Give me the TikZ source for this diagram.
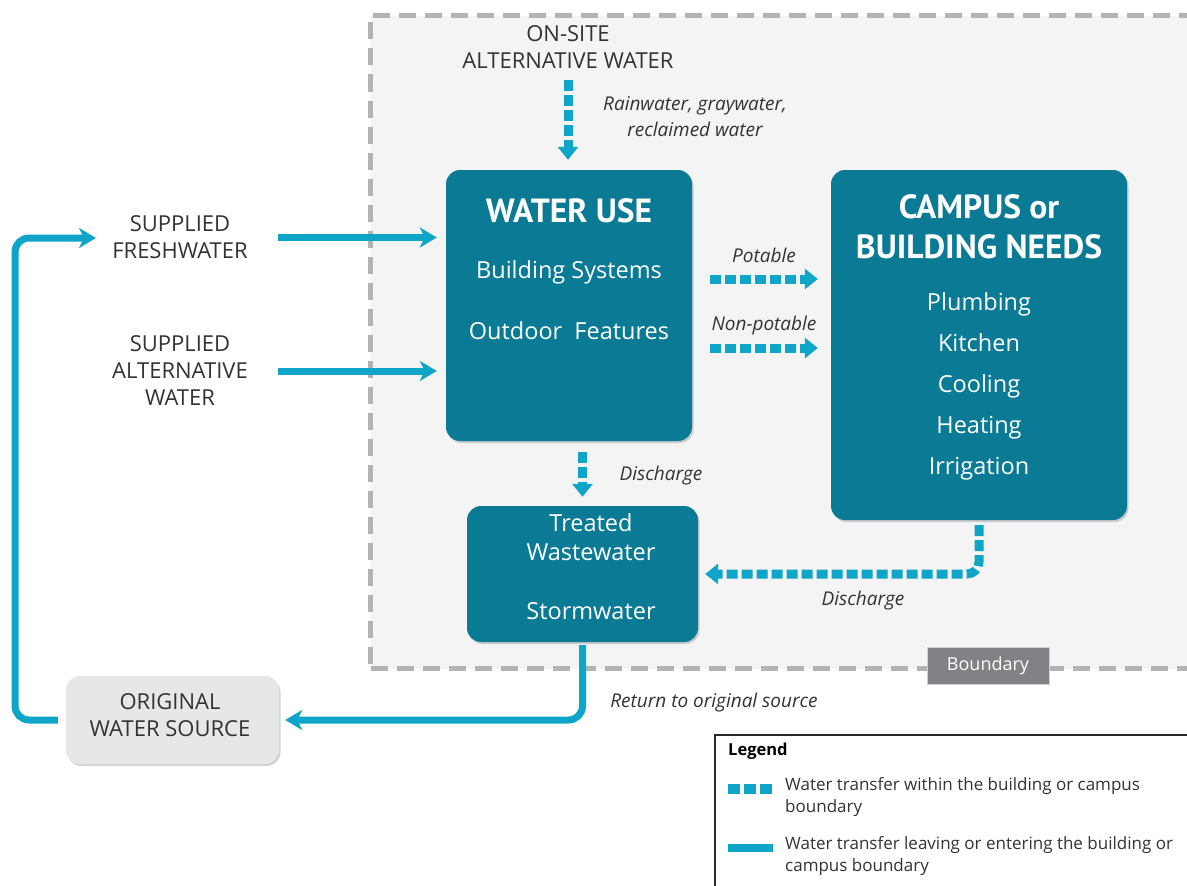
\documentclass[tikz,border=0pt]{standalone}
\usepackage{fontspec}
\setmainfont{Open Sans}
\newfontfamily\titlefont{PT Sans}
\usetikzlibrary{arrows.meta,shadows,calc}
\definecolor{boxteal}{HTML}{0A7A95}
\definecolor{flow}{HTML}{0FA5C8}
\definecolor{bgin}{HTML}{F4F4F4}
\definecolor{dashgray}{HTML}{B3B3B3}
\definecolor{txt}{HTML}{333333}
\definecolor{srcfill}{HTML}{E6E7E8}
\definecolor{bndfill}{HTML}{808285}
\begin{document}
\begin{tikzpicture}[x=1pt,y=-1pt,
  tealbox/.style={fill=boxteal, rounded corners=14pt, inner sep=0pt,
    drop shadow={opacity=0.35, shadow xshift=1.5pt, shadow yshift=-2pt}},
  srcbox/.style={fill=srcfill, rounded corners=14pt, inner sep=0pt,
    drop shadow={opacity=0.35, shadow xshift=1.5pt, shadow yshift=-2pt}},
  boxtitle/.style={text=white, font=\titlefont\bfseries\fontsize{33.5}{40}\selectfont, align=center, inner sep=0pt},
  boxitem/.style={text=white, font=\fontsize{23.5}{41}\selectfont, align=center, inner sep=0pt},
  plain/.style={text=txt, font=\fontsize{22}{27}\selectfont, align=center, inner sep=0pt},
  flowlabel/.style={text=txt, font=\itshape\fontsize{19}{26}\selectfont, align=center, inner sep=0pt},
  dasharrow/.style={draw=flow, line width=9pt, dash pattern=on 11pt off 4pt,
    -{Triangle[length=13pt,width=20pt]}},
  solidarrow/.style={draw=flow, line width=7pt,
    -{Stealth[length=17pt,width=20pt,inset=5pt]}},
  solidline/.style={draw=flow, line width=7pt},
  legtext/.style={text=txt, font=\fontsize{17}{22}\selectfont, align=left, inner sep=0pt, anchor=north west}
]
\useasboundingbox (0,0) rectangle (1187,886);
\clip (0,0) rectangle (1187,886);
\fill[white] (0,0) rectangle (1187,886);

% boundary
\node[draw=dashgray, fill=bgin, line width=5pt, dash pattern=on 17pt off 9pt,
  minimum width=840pt, minimum height=653pt, anchor=north west, inner sep=0pt] (bnd) at (368,13) {};
\node[fill=bndfill, draw=dashgray!60, line width=1pt, text=white, font=\fontsize{18}{20}\selectfont,
  minimum width=122pt, minimum height=37pt, inner sep=0pt] (bndlabel) at (988,665.5) {Boundary};

% main boxes
\node[tealbox, minimum width=246pt, minimum height=271pt] (wu) at (569,305.5) {};
\node[boxtitle] (wut) at (569,211) {WATER USE};
\node[boxitem] (wu1) at (569,272) {Building Systems};
\node[boxitem] (wu2) at (569,331) {Outdoor\ \ Features};

\node[tealbox, minimum width=296pt, minimum height=350pt] (cn) at (979,345) {};
\node[boxtitle] (cnt) at (979,227) {CAMPUS or\\BUILDING NEEDS};
\node[boxitem] (cni) at (979,386) {Plumbing\\Kitchen\\Cooling\\Heating\\Irrigation};

\node[tealbox, minimum width=231pt, minimum height=136pt] (tr) at (582.5,574) {};
\node[boxitem, font=\fontsize{23.5}{29}\selectfont] (tr1) at (591,537) {Treated\\Wastewater};
\node[boxitem] (tr2) at (591,611) {Stormwater};

\node[srcbox, minimum width=213pt, minimum height=88pt] (ows) at (172.5,720) {};
\node[plain] (owst) at (170,715) {ORIGINAL\\WATER SOURCE};

% outside labels
\node[plain] (onsite) at (568,47) {ON-SITE\\ALTERNATIVE WATER};
\node[flowlabel] (rain) at (695,117) {Rainwater, graywater,\\reclaimed water};
\node[plain, text width=196pt] (sf) at (180,237.5) {SUPPLIED\\FRESHWATER};
\node[plain, text width=196pt] (sa) at (180,371) {SUPPLIED\\ALTERNATIVE\\WATER};

\node[flowlabel] (pot) at (764,255) {Potable};
\node[flowlabel] (npot) at (764,326) {Non-potable};
\node[flowlabel] (dis1) at (661,476) {Discharge};
\node[flowlabel] (dis2) at (863,601) {Discharge};
\node[flowlabel] (ret) at (714,703) {Return to original source};

\coordinate (potrow) at (764,279);
\coordinate (npotrow) at (764,348);
\coordinate (loopcorner) at (15,720);
\coordinate (loopend) at (96,238);

% connectors
\draw[dasharrow, shorten >=10pt] (onsite.south |- 0,80) -- (onsite.south |- wu.north);
\draw[dasharrow, shorten <=18pt, shorten >=13pt] (wu.east |- potrow) -- (cn.west |- potrow);
\draw[dasharrow, shorten <=18pt, shorten >=13pt] (wu.east |- npotrow) -- (cn.west |- npotrow);
\draw[dasharrow, shorten <=11pt, shorten >=9pt] (tr.north |- wu.south) -- (tr.north);
\draw[dasharrow, rounded corners=12pt, shorten <=5pt, shorten >=7pt] (cn.south) |- (tr.east);

\draw[solidarrow, shorten >=9pt] (sf.east) -- (sf.east -| wu.west);
\draw[solidarrow, shorten >=9pt] (sa.east) -- (sa.east -| wu.west);
\draw[solidarrow, rounded corners=14pt, shorten <=3pt, shorten >=6pt] (tr.south) |- (ows.east);
\draw[solidline, rounded corners=14pt, -{Stealth[length=17pt,width=20pt,inset=5pt]}, shorten <=8pt]
  (ows.west) -- (loopcorner) |- (loopend);

% legend
\node[draw=txt!80!black, line width=2pt, fill=white, minimum width=490pt, minimum height=170pt,
  anchor=north west, inner sep=0pt] (lg) at (714,734) {};
\node[text=black, font=\bfseries\fontsize{16.5}{20}\selectfont, anchor=north west, inner sep=0pt] (lgt) at (728,743) {Legend};
\node[legtext] (lg1) at (785,777) {Water transfer within the building or campus\\boundary};
\node[legtext] (lg2) at (785,836) {Water transfer leaving or entering the building or\\campus boundary};
\draw[draw=flow, line width=10pt, dash pattern=on 12pt off 4pt] (lg1.west |- 0,789) ++(-57,0) coordinate (ld1) -- ++(45,0);
\draw[draw=flow, line width=8pt] (lg2.west |- 0,848) ++(-57,0) coordinate (ld2) -- ++(45,0);
\end{tikzpicture}
\end{document}
